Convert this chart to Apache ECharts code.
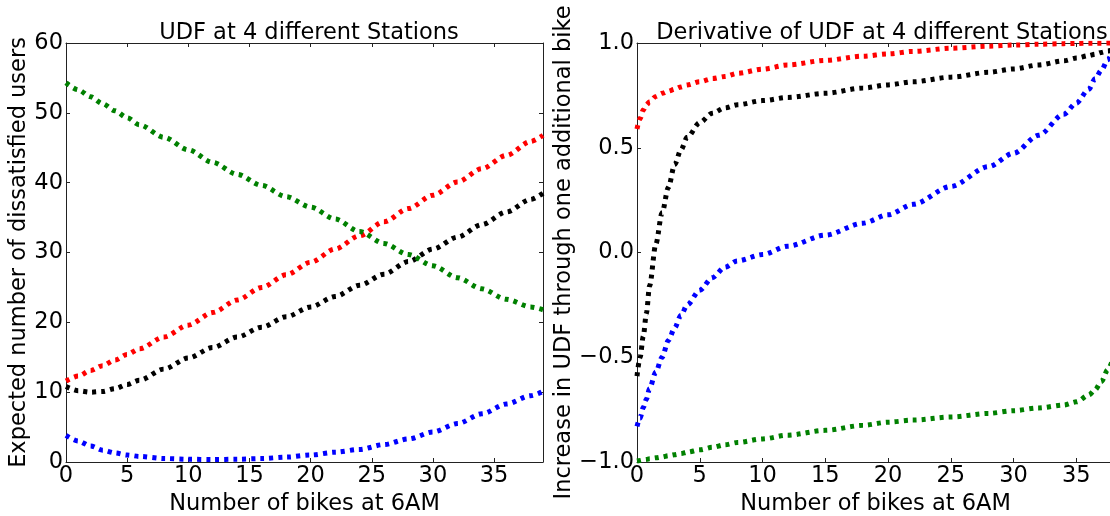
<!DOCTYPE html>
<html style="height: 100%">
<head>
<meta charset="utf-8">
<script src="https://cdn.jsdelivr.net/npm/echarts@6/dist/echarts.min.js"></script>
</head>
<body style="height: 100%; margin: 0; background: #fff">
<div id="container" style="width: 1110px; height: 516px"></div>
<script type="text/javascript">
// left panel: UDF per number of bikes
var udfX = [0, 1, 2, 3, 4, 5, 6, 8, 10, 12, 14, 16, 18, 20, 22, 24, 26, 28, 30, 32, 34, 36, 38, 39];
var udfRed = [11.6, 12.3, 13.1, 13.8, 14.6, 15.4, 16.2, 17.9, 19.6, 21.4, 23.2, 25.0, 26.8, 28.6, 30.5, 32.4, 34.4, 36.3, 38.2, 40.1, 42.0, 43.9, 45.9, 46.8];
var udfBlack = [10.8, 10.2, 10.0, 10.1, 10.5, 11.1, 11.7, 13.3, 14.9, 16.4, 17.9, 19.3, 20.8, 22.2, 23.7, 25.3, 26.9, 28.7, 30.5, 32.2, 34.0, 35.8, 37.6, 38.5];
var udfBlue = [3.8, 3.0, 2.3, 1.7, 1.3, 1.0, 0.8, 0.5, 0.4, 0.35, 0.4, 0.5, 0.7, 1.0, 1.4, 1.8, 2.5, 3.3, 4.3, 5.5, 6.9, 8.3, 9.5, 10.1];
var udfGreen = [54.3, 53.3, 52.3, 51.3, 50.3, 49.3, 48.3, 46.5, 44.7, 42.9, 41.2, 39.6, 38.0, 36.5, 34.8, 33.0, 31.3, 29.7, 28.1, 26.4, 24.8, 23.3, 22.2, 21.8];

// right panel: derivative of UDF
var derivX = [0, 0.25, 0.5, 0.75, 1, 1.5, 2, 2.5, 3, 3.5, 4, 5, 6, 7, 8, 10, 12, 15, 18, 20, 22, 25, 28, 30, 32, 34, 35, 36, 36.5, 37, 37.5, 38];
var derivRed = [0.59, 0.64, 0.68, 0.705, 0.72, 0.745, 0.76, 0.77, 0.78, 0.79, 0.80, 0.815, 0.83, 0.84, 0.855, 0.875, 0.895, 0.917, 0.937, 0.948, 0.96, 0.975, 0.985, 0.99, 0.994, 0.997, 0.998, 0.999, 0.999, 0.999, 1.0, 1.0];
var derivBlack = [-0.59, -0.50, -0.40, -0.29, -0.16, 0.04, 0.19, 0.31, 0.42, 0.49, 0.55, 0.62, 0.665, 0.69, 0.705, 0.725, 0.74, 0.76, 0.785, 0.80, 0.815, 0.837, 0.86, 0.876, 0.895, 0.915, 0.928, 0.94, 0.947, 0.955, 0.962, 0.97];
var derivBlue = [-0.83, -0.79, -0.74, -0.70, -0.65, -0.57, -0.50, -0.42, -0.36, -0.30, -0.25, -0.18, -0.12, -0.07, -0.04, -0.01, 0.03, 0.083, 0.14, 0.18, 0.23, 0.315, 0.41, 0.474, 0.56, 0.66, 0.713, 0.78, 0.83, 0.87, 0.92, 0.98];
var derivGreen = [-0.995, -0.993, -0.99, -0.988, -0.985, -0.98, -0.976, -0.97, -0.965, -0.96, -0.953, -0.942, -0.93, -0.918, -0.907, -0.89, -0.872, -0.849, -0.825, -0.81, -0.80, -0.785, -0.768, -0.755, -0.742, -0.728, -0.713, -0.68, -0.655, -0.615, -0.56, -0.49];

var FONT = 'DejaVu Sans';
var FS = 22.5;
var frame = '#222';

function pairs(xs, ys) {
    return xs.map(function (x, i) { return [x, ys[i]]; });
}

function xAx(grid, max, pos) {
    return {
        type: 'value', gridIndex: grid, position: pos, min: 0, max: max, interval: 5,
        axisLine: { onZero: false, lineStyle: { color: frame, width: 1 } },
        axisTick: { inside: true, length: 4, lineStyle: { color: frame } },
        splitLine: { show: false },
        axisLabel: {
            show: pos === 'bottom', showMaxLabel: false, margin: 3,
            color: '#000', fontSize: FS, fontFamily: FONT
        },
        name: pos === 'bottom' ? 'Number of bikes at 6AM' : '',
        nameLocation: 'middle', nameGap: 19,
        nameTextStyle: { color: '#000', fontSize: FS, fontFamily: FONT }
    };
}

function yAx(grid, min, max, step, pos, name, gap, fmt) {
    return {
        type: 'value', gridIndex: grid, position: pos, min: min, max: max, interval: step,
        axisLine: { onZero: false, lineStyle: { color: frame, width: 1 } },
        axisTick: { inside: true, length: 4, lineStyle: { color: frame } },
        splitLine: { show: false },
        axisLabel: {
            show: pos === 'left', margin: 3, formatter: fmt,
            color: '#000', fontSize: FS, fontFamily: FONT
        },
        name: pos === 'left' ? name : '',
        nameLocation: 'middle', nameGap: gap,
        nameTextStyle: { color: '#000', fontSize: FS, fontFamily: FONT }
    };
}

function minusFmt(v) {
    return (v < 0 ? '\u2212' : '') + Math.abs(v).toFixed(1);
}

function dotted(name, color, xi, yi, data) {
    return {
        name: name, type: 'line', xAxisIndex: xi, yAxisIndex: yi,
        data: data, showSymbol: false, smooth: 0.3, smoothMonotone: 'x',
        lineStyle: { color: color, width: 5, type: [4, 5], cap: 'butt' }
    };
}

var dom = document.getElementById('container');
var myChart = echarts.init(dom);
var option = {
    animation: false,
    backgroundColor: '#fff',
    textStyle: { fontFamily: FONT },
    title: [
        { text: 'UDF at 4 different Stations', left: 304, top: 17, textAlign: 'center',
          textStyle: { color: '#000', fontSize: FS, fontWeight: 'normal', fontFamily: FONT } },
        { text: 'Derivative of UDF at 4 different Stations', left: 877, top: 17, textAlign: 'center',
          textStyle: { color: '#000', fontSize: FS, fontWeight: 'normal', fontFamily: FONT } }
    ],
    grid: [
        { left: 66, top: 43, width: 477, height: 419, outerBoundsMode: 'none' },
        { left: 637, top: 43, width: 477, height: 419, outerBoundsMode: 'none' }
    ],
    xAxis: [
        xAx(0, 39, 'bottom'), xAx(0, 39, 'top'),
        xAx(1, 38, 'bottom'), xAx(1, 38, 'top')
    ],
    yAxis: [
        yAx(0, 0, 60, 10, 'left', 'Expected number of dissatisfied users', 33),
        yAx(0, 0, 60, 10, 'right'),
        yAx(1, -1, 1, 0.5, 'left', 'Increase in UDF through one additional bike', 54, minusFmt)
    ],
    series: [
        dotted('red', '#ff0000', 0, 0, pairs(udfX, udfRed)),
        dotted('black', '#000000', 0, 0, pairs(udfX, udfBlack)),
        dotted('blue', '#0000ff', 0, 0, pairs(udfX, udfBlue)),
        dotted('green', '#008000', 0, 0, pairs(udfX, udfGreen)),
        dotted('red', '#ff0000', 2, 2, pairs(derivX, derivRed)),
        dotted('black', '#000000', 2, 2, pairs(derivX, derivBlack)),
        dotted('blue', '#0000ff', 2, 2, pairs(derivX, derivBlue)),
        dotted('green', '#008000', 2, 2, pairs(derivX, derivGreen))
    ]
};
myChart.setOption(option);
</script>
</body>
</html>
